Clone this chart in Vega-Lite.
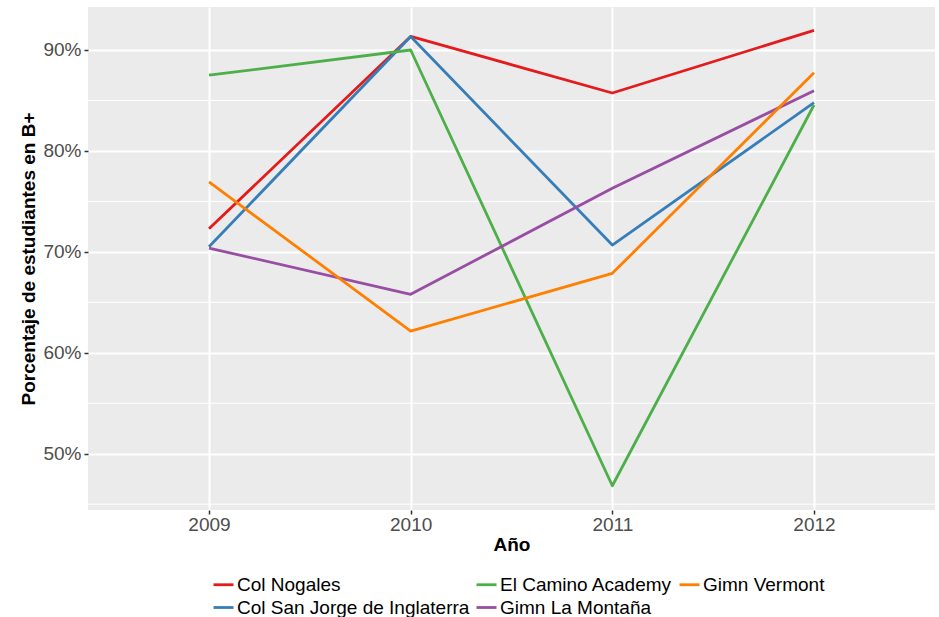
{
  "$schema": "https://vega.github.io/schema/vega-lite/v6.json",
  "width": 847,
  "height": 503,
  "autosize": {"type": "none"},
  "padding": {"left": 88, "top": 7, "right": 4, "bottom": 107},
  "background": "white",
  "config": {
    "font": "Liberation Sans",
    "view": {"fill": "#EBEBEB", "stroke": null},
    "axis": {
      "gridColor": "white",
      "gridWidth": 2,
      "domain": false,
      "tickColor": "#333333",
      "tickWidth": 1.5,
      "tickSize": 4,
      "labelColor": "#4D4D4D",
      "labelFontSize": 19,
      "labelPadding": 3,
      "titleFontSize": 19,
      "titleFontWeight": "bold",
      "titleColor": "black"
    },
    "legend": {
      "padding": 0,
      "labelFontSize": 19,
      "labelColor": "black",
      "labelOffset": 2,
      "columnPadding": 0,
      "rowPadding": 1,
      "labelLimit": 400,
      "symbolType": "stroke",
      "symbolSize": 400,
      "symbolStrokeWidth": 2.8
    }
  },
  "datasets": {
    "minor": [{"v": 0.45}, {"v": 0.55}, {"v": 0.65}, {"v": 0.75}, {"v": 0.85}],
    "scores": [
      {"colegio": "Col Nogales", "anio": 2009, "pct": 0.7228},
      {"colegio": "Col Nogales", "anio": 2010, "pct": 0.9134},
      {"colegio": "Col Nogales", "anio": 2011, "pct": 0.8574},
      {"colegio": "Col Nogales", "anio": 2012, "pct": 0.9195},
      {"colegio": "Col San Jorge de Inglaterra", "anio": 2009, "pct": 0.7050},
      {"colegio": "Col San Jorge de Inglaterra", "anio": 2010, "pct": 0.9134},
      {"colegio": "Col San Jorge de Inglaterra", "anio": 2011, "pct": 0.7067},
      {"colegio": "Col San Jorge de Inglaterra", "anio": 2012, "pct": 0.8478},
      {"colegio": "El Camino Academy", "anio": 2009, "pct": 0.8750},
      {"colegio": "El Camino Academy", "anio": 2010, "pct": 0.9000},
      {"colegio": "El Camino Academy", "anio": 2011, "pct": 0.4682},
      {"colegio": "El Camino Academy", "anio": 2012, "pct": 0.8455},
      {"colegio": "Gimn La Montaña", "anio": 2009, "pct": 0.7037},
      {"colegio": "Gimn La Montaña", "anio": 2010, "pct": 0.6579},
      {"colegio": "Gimn La Montaña", "anio": 2011, "pct": 0.7630},
      {"colegio": "Gimn La Montaña", "anio": 2012, "pct": 0.8597},
      {"colegio": "Gimn Vermont", "anio": 2009, "pct": 0.7693},
      {"colegio": "Gimn Vermont", "anio": 2010, "pct": 0.6215},
      {"colegio": "Gimn Vermont", "anio": 2011, "pct": 0.6787},
      {"colegio": "Gimn Vermont", "anio": 2012, "pct": 0.8775}
    ]
  },
  "layer": [
    {
      "data": {"name": "minor"},
      "mark": {"type": "rule", "color": "white", "strokeWidth": 1},
      "encoding": {
        "y": {
          "field": "v",
          "type": "quantitative",
          "scale": {"domain": [0.4442, 0.9426], "nice": false, "zero": false},
          "axis": {"values": [0.5, 0.6, 0.7, 0.8, 0.9], "format": ".0%", "title": "Porcentaje de estudiantes en B+", "titlePadding": 4}
        }
      }
    },
    {
      "data": {"name": "scores"},
      "mark": {"type": "line", "strokeWidth": 2.8, "strokeJoin": "round"},
      "encoding": {
        "x": {
          "field": "anio",
          "type": "quantitative",
          "scale": {"domain": [2008.4, 2012.6], "nice": false, "zero": false},
          "axis": {"values": [2009, 2010, 2011, 2012], "format": "d", "title": "Año", "labelPadding": 1, "titlePadding": 1}
        },
        "y": {
          "field": "pct",
          "type": "quantitative",
          "scale": {"domain": [0.4442, 0.9426], "nice": false, "zero": false},
          "axis": {"values": [0.5, 0.6, 0.7, 0.8, 0.9], "format": ".0%", "title": "Porcentaje de estudiantes en B+", "titlePadding": 4}
        },
        "color": {
          "field": "colegio",
          "type": "nominal",
          "scale": {
            "domain": ["Col Nogales", "El Camino Academy", "Gimn Vermont", "Col San Jorge de Inglaterra", "Gimn La Montaña"],
            "range": ["#E41A1C", "#4DAF4A", "#FF7F00", "#377EB8", "#984EA3"]
          },
          "legend": {"title": null, "orient": "none", "direction": "horizontal", "columns": 3, "legendX": 124, "legendY": 566}
        },
        "order": {"field": "anio", "type": "quantitative"}
      }
    }
  ]
}
